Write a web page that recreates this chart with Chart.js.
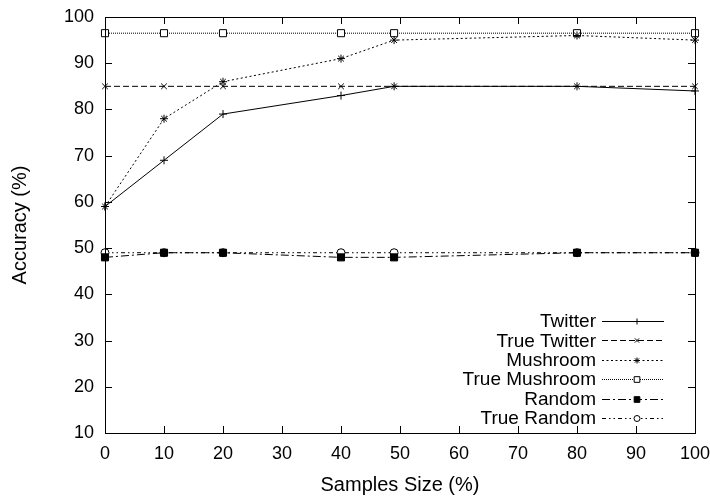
<!DOCTYPE html>
<html>
<head>
<meta charset="utf-8">
<script src="https://cdn.jsdelivr.net/npm/chart.js@4.4.1/dist/chart.umd.min.js"></script>
<style>
  html, body { margin: 0; padding: 0; background: #fff; }
  #wrap { width: 710px; height: 499px; }
</style>
</head>
<body>
<div id="wrap"><canvas id="accChart" width="710" height="499"></canvas></div>
<script>
// sample sizes (%) and accuracy per method
const sampleSizes = [0, 10, 20, 40, 49, 80, 100];
const twitter = [59, 69, 79, 83, 85, 85, 84];
const trueTwitter = [85, 85, 85, 85, 85, 85, 85];
const mushroom = [59, 78, 86, 91, 95, 96, 95];
const trueMushroom = [96.5, 96.5, 96.5, 96.5, 96.5, 96.5, 96.5];
const random = [48, 49, 49, 48, 48, 49, 49];
const trueRandom = [49, 49, 49, 49, 49, 49, 49];

const xTicks = [0, 10, 20, 30, 40, 50, 60, 70, 80, 90, 100];
const yTicks = [10, 20, 30, 40, 50, 60, 70, 80, 90, 100];

const FONT = "'Liberation Sans', Arial, Helvetica, sans-serif";

function pts(ys) {
    return sampleSizes.map((x, i) => ({ x: x, y: ys[i] }));
}

function series(label, ys, dash, style, filled) {
    return {
        label: label,
        data: pts(ys),
        showLine: true,
        borderColor: "#000",
        borderWidth: 1,
        borderDash: dash,
        pointStyle: style,
        pointRadius: style === "rect" ? 5 : 4,
        pointBorderColor: "#000",
        pointBorderWidth: 1,
        pointBackgroundColor: filled ? "#000" : "#fff",
        backgroundColor: filled ? "#000" : "#fff",
        clip: false,
        tension: 0
    };
}

// gnuplot-style frame with inward ticks on all four sides
const framePlugin = {
    id: "frame",
    afterDatasetsDraw(chart) {
        const { ctx, chartArea: a } = chart;
        const xs = chart.scales.x, ys = chart.scales.y;
        const len = 7;
        ctx.save();
        ctx.strokeStyle = "#000";
        ctx.lineWidth = 1;
        ctx.setLineDash([]);
        ctx.strokeRect(a.left + 0.5, a.top + 0.5, a.right - a.left, a.bottom - a.top);
        ctx.beginPath();
        xTicks.forEach(v => {
            const px = Math.round(xs.getPixelForValue(v)) + 0.5;
            ctx.moveTo(px, a.bottom); ctx.lineTo(px, a.bottom - len);
            ctx.moveTo(px, a.top); ctx.lineTo(px, a.top + len);
        });
        yTicks.forEach(v => {
            const py = Math.round(ys.getPixelForValue(v)) + 0.5;
            ctx.moveTo(a.left, py); ctx.lineTo(a.left + len, py);
            ctx.moveTo(a.right, py); ctx.lineTo(a.right - len, py);
        });
        ctx.stroke();
        ctx.restore();
    }
};

// key in the lower right: right-aligned label, then line sample with marker
const keyPlugin = {
    id: "key",
    afterDraw(chart) {
        const ctx = chart.ctx;
        const textRight = 596, lineL = 602, lineR = 664, markX = 637;
        ctx.save();
        ctx.font = "19px " + FONT;
        ctx.textAlign = "right";
        ctx.textBaseline = "middle";
        chart.data.datasets.forEach((ds, i) => {
            const y = 321 + i * 19.4;
            ctx.fillStyle = "#000";
            ctx.fillText(ds.label, textRight, y + 1);
            ctx.strokeStyle = "#000";
            ctx.lineWidth = 1;
            ctx.setLineDash(ds.borderDash);
            ctx.beginPath();
            ctx.moveTo(lineL, Math.round(y) + 0.5);
            ctx.lineTo(lineR, Math.round(y) + 0.5);
            ctx.stroke();
            ctx.setLineDash([]);
            ctx.fillStyle = ds.pointBackgroundColor;
            Chart.helpers.drawPoint(ctx, {
                pointStyle: ds.pointStyle,
                radius: ds.pointRadius - 1,
                rotation: 0,
                borderWidth: 1
            }, markX, Math.round(y) + 0.5);
        });
        ctx.restore();
    }
};

new Chart(document.getElementById("accChart").getContext("2d"), {
    type: "scatter",
    data: {
        datasets: [
            series("Twitter", twitter, [], "cross", false),
            series("True Twitter", trueTwitter, [6, 3], "crossRot", false),
            series("Mushroom", mushroom, [2, 2.5], "star", false),
            series("True Mushroom", trueMushroom, [1, 1], "rect", false),
            series("Random", random, [8, 3, 2, 3], "rect", true),
            series("True Random", trueRandom, [4, 3, 1.5, 3, 1.5, 3], "circle", false)
        ]
    },
    options: {
        responsive: false,
        animation: false,
        devicePixelRatio: 1,
        layout: { padding: { left: 0, right: 15, top: 17, bottom: 0 } },
        plugins: {
            legend: { display: false },
            tooltip: { enabled: false }
        },
        scales: {
            x: {
                type: "linear",
                min: 0,
                max: 100,
                afterFit(scale) {
                    scale.height = 66;
                    scale.paddingLeft = 0;
                    scale.paddingRight = 0;
                },
                afterBuildTicks(scale) { scale.ticks = xTicks.map(v => ({ value: v })); },
                grid: { display: false, drawTicks: false },
                border: { display: false },
                ticks: { color: "#000", padding: 10, font: { family: FONT, size: 18 }, maxRotation: 0 },
                title: { display: true, text: "Samples Size (%)", color: "#000", font: { family: FONT, size: 20 }, padding: { top: 4, bottom: 2 } }
            },
            y: {
                type: "linear",
                min: 10,
                max: 100,
                afterFit(scale) {
                    scale.width = 105;
                    scale.paddingTop = 0;
                    scale.paddingBottom = 0;
                },
                afterBuildTicks(scale) { scale.ticks = yTicks.map(v => ({ value: v })); },
                grid: { display: false, drawTicks: false },
                border: { display: false },
                ticks: { color: "#000", padding: 11, font: { family: FONT, size: 18 } },
                title: { display: true, text: "Accuracy (%)", color: "#000", font: { family: FONT, size: 20 }, padding: { top: 8, bottom: 4 } }
            }
        }
    },
    plugins: [framePlugin, keyPlugin]
});
</script>
</body>
</html>
